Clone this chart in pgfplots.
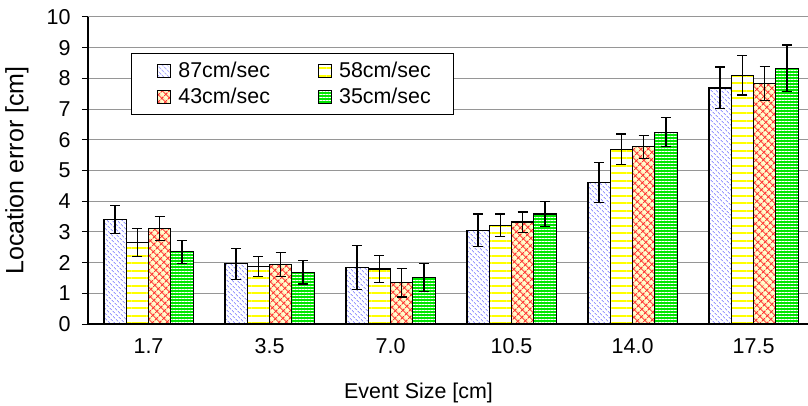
\documentclass[border=0pt]{standalone}
\usepackage{fontspec}
\setmainfont{Liberation Sans}
\usepackage{pgfplots}
\pgfplotsset{compat=1.18}
\usetikzlibrary{patterns.meta}
\definecolor{lav}{RGB}{153,153,255}
\definecolor{yel}{RGB}{255,255,0}
\definecolor{ltyel}{RGB}{255,255,204}
\definecolor{red2}{RGB}{255,51,51}
\definecolor{grn}{RGB}{0,230,0}
\definecolor{gridgray}{RGB}{150,150,150}
\begin{document}
\begin{tikzpicture}
\useasboundingbox (-88bp,-82bp) rectangle (720bp,324bp);
\begin{axis}[
  at={(0,0)}, anchor=south west,
  scale only axis,
  width=720bp, height=307bp,
  xmin=-0.5, xmax=5.45,
  ymin=0, ymax=10,
  ytick={0,1,...,10},
  xtick={0,1,2,3,4,5},
  xticklabels={1.7,3.5,7.0,10.5,14.0,17.5},
  minor xtick={-0.5,0.5,1.5,2.5,3.5,4.5},
  xtick style={draw=none},
  minor tick length=6bp,
  major tick length=6bp,
  tick align=outside,
  tick style={black, line width=1bp},
  minor x tick style={black, line width=1bp},
  axis x line*=bottom,
  axis y line*=left,
  axis line style={-, black, line width=1.2bp},
  ymajorgrids,
  grid style={gridgray, line width=1bp},
  /pgf/number format/assume math mode=true,
  tick label style={font=\fontsize{21.5bp}{25bp}\selectfont},
  yticklabel style={xshift=-8bp},
  xticklabel style={yshift=-5bp},
  xlabel={Event Size [cm]},
  ylabel={Location error [cm]},
  every axis x label/.style={at={(axis description cs:0.459,0)}, anchor=center, yshift=-69bp, font=\fontsize{21.4bp}{25bp}\selectfont},
  every axis y label/.style={at={(axis description cs:0,0.5)}, xshift=-71bp, anchor=center, rotate=90, font=\fontsize{25bp}{29bp}\selectfont},
  ybar=0pt,
  bar width=22.3bp,
  legend columns=2,
  legend cell align=left,
  legend style={at={(axis description cs:0.0593,0.884)}, anchor=north west,
    draw=black, line width=1bp, fill=white,
    font=\fontsize{21.4bp}{25bp}\selectfont,
    inner xsep=21bp, inner ysep=7bp, row sep=5bp,
    /tikz/every even column/.append style={column sep=41bp}},
  legend image code/.code={\path (-5bp,0bp) (18bp,0bp); \draw[#1, line width=0.8bp] (0bp,-6.5bp) rectangle (13bp,6.5bp);},
  error bars/y dir=both,
  error bars/y explicit,
  error bars/error bar style={black, line width=1.2bp},
  error bars/error mark options={rotate=90, mark size=5bp, black, line width=1.2bp},
]
\addplot[draw=black, line width=1.2bp, fill=white,
  postaction={pattern={Lines[angle=-45,distance=3.6bp,line width=1bp]}, pattern color=lav}]
  coordinates {(0,3.40) +- (0,0.46) (1,1.96) +- (0,0.50) (2,1.84) +- (0,0.71)
               (3,3.05) +- (0,0.53) (4,4.60) +- (0,0.65) (5,7.69) +- (0,0.68)};
\addplot[draw=black, line width=1.2bp, fill=white,
  postaction={pattern={Lines[angle=0,distance=7.5bp,line width=2bp]}, pattern color=yel}]
  coordinates {(0,2.66) +- (0,0.46) (1,1.88) +- (0,0.33) (2,1.79) +- (0,0.44)
               (3,3.21) +- (0,0.37) (4,5.69) +- (0,0.50) (5,8.10) +- (0,0.64)};
\addplot[draw=black, line width=1.2bp, fill=ltyel,
  postaction={pattern={Hatch[angle=45,distance=5.2bp,line width=1.1bp]}, pattern color=red2}]
  coordinates {(0,3.11) +- (0,0.40) (1,1.93) +- (0,0.39) (2,1.34) +- (0,0.46)
               (3,3.32) +- (0,0.33) (4,5.77) +- (0,0.38) (5,7.83) +- (0,0.55)};
\addplot[draw=black, line width=1.2bp, fill=grn,
  postaction={pattern={Lines[angle=0,distance=3bp,line width=0.8bp]}, pattern color=white}]
  coordinates {(0,2.35) +- (0,0.37) (1,1.69) +- (0,0.39) (2,1.52) +- (0,0.46)
               (3,3.58) +- (0,0.41) (4,6.25) +- (0,0.48) (5,8.33) +- (0,0.76)};
\legend{87cm/sec,58cm/sec,43cm/sec,35cm/sec}
\end{axis}
\end{tikzpicture}
\end{document}
